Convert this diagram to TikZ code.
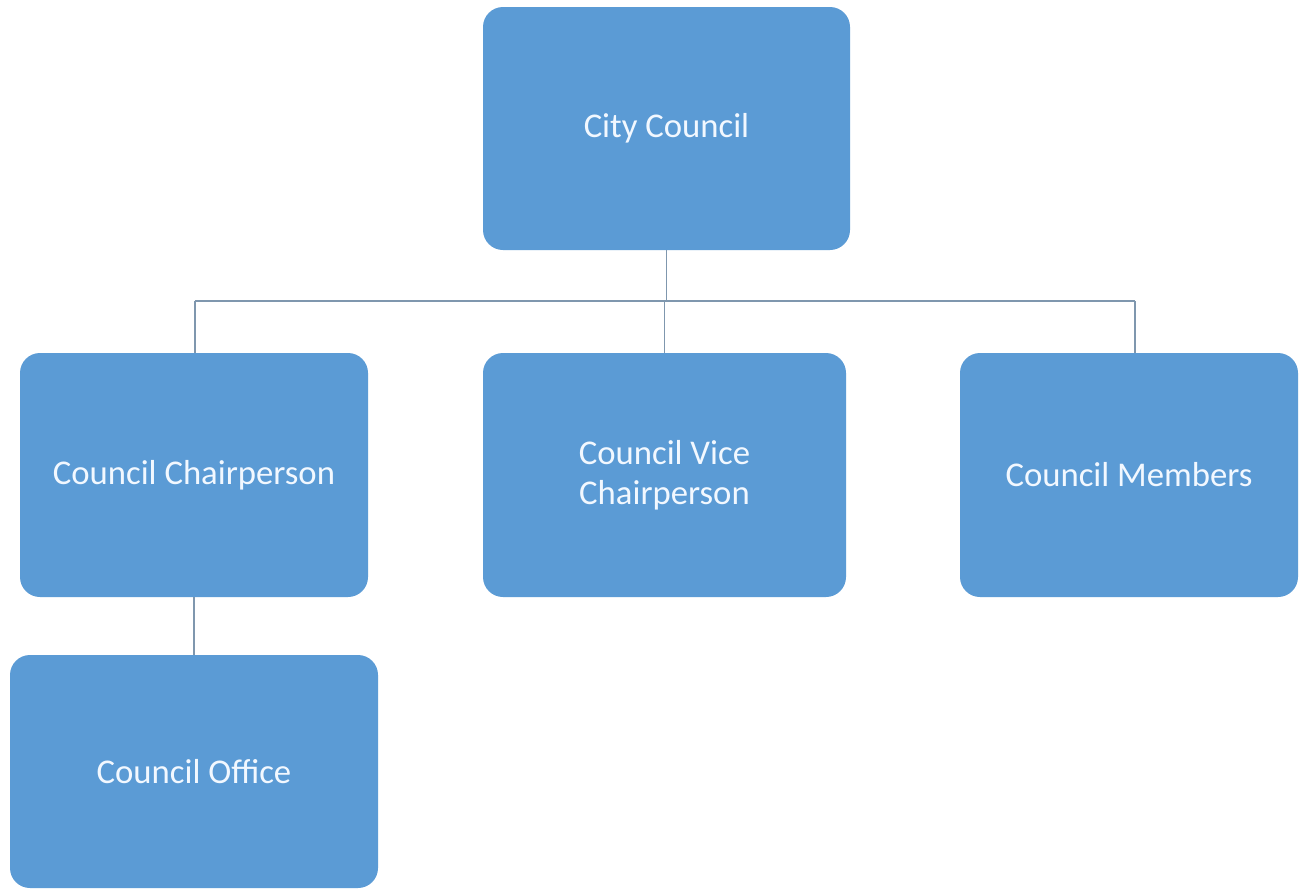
\documentclass[tikz,border=0pt]{standalone}
\usepackage{fontspec}
\setmainfont{Carlito}
\usetikzlibrary{calc}
\definecolor{boxblue}{HTML}{5B9BD5}
\definecolor{linecol}{HTML}{7F97AE}
\definecolor{txtcol}{HTML}{F2F8FF}
\begin{document}
\begin{tikzpicture}[x=1pt,y=-1pt,
  orgbox/.style={rectangle, rounded corners=20pt, fill=boxblue, draw=none,
    text=txtcol, align=center, inner sep=0pt,
    font=\fontsize{34.7}{40}\selectfont},
  conn/.style={draw=linecol, line width=1.6pt}]
\useasboundingbox (0,0) rectangle (1299,892);
\fill[white] (0,0) rectangle (1299,892);
\node[orgbox, minimum width=367pt, minimum height=243pt] (city) at (666.5,128.5) {City Council};
\node[orgbox, minimum width=348pt, minimum height=244pt] (chair) at (194,475) {Council Chairperson};
\node[orgbox, minimum width=363pt, minimum height=244pt] (vice) at (664.5,475) {Council Vice\\Chairperson};
\node[orgbox, minimum width=338pt, minimum height=244pt] (members) at (1129,475) {Council Members};
\node[orgbox, minimum width=368pt, minimum height=233pt] (office) at (194,771.5) {Council Office};
\coordinate (bus) at (0,301);
\coordinate (mtop) at ($(members.north)+(6,0)$);
\coordinate (ctop) at ($(chair.north)+(1,0)$);
\draw[conn] (city.south) -- (city.south |- bus);
\draw[conn] (ctop |- bus) -- (mtop |- bus);
\draw[conn] (ctop |- bus) -- (ctop);
\draw[conn] (mtop |- bus) -- (mtop);
\draw[conn] (vice.north |- bus) -- (vice.north);
\draw[conn] (chair.south) -- (office.north);
\end{tikzpicture}
\end{document}
